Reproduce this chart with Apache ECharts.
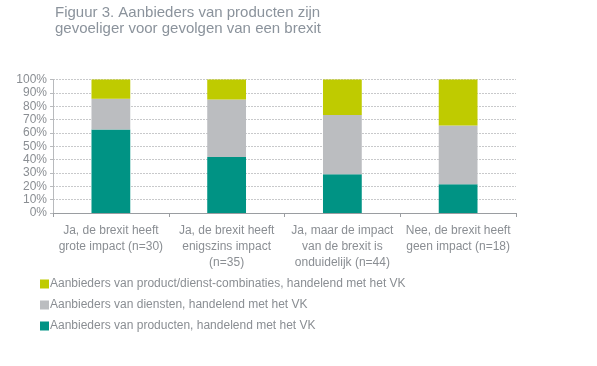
<!DOCTYPE html>
<html><head><meta charset="utf-8">
<script src="https://cdn.jsdelivr.net/npm/echarts@6/dist/echarts.min.js"></script>
<style>html,body{margin:0;padding:0;background:#fff}#c{width:597px;height:366px}</style>
</head><body><div id="c"></div>
<script>
const categories = [
  "Ja, de brexit heeft\ngrote impact (n=30)",
  "Ja, de brexit heeft\nenigszins impact\n(n=35)",
  "Ja, maar de impact\nvan de brexit is\nonduidelijk (n=44)",
  "Nee, de brexit heeft\ngeen impact (n=18)"
];
const seriesNames = [
  "Aanbieders van producten, handelend met het VK",
  "Aanbieders van diensten, handelend met het VK",
  "Aanbieders van product/dienst-combinaties, handelend met het VK"
];
const producten = [62.5, 42, 29, 21.5];
const diensten = [23, 43, 44.5, 44];
const combinaties = [14.5, 15, 26.5, 34.5];
const yTicks = [0,10,20,30,40,50,60,70,80,90,100];

const colors = ["#009384", "#bbbdc0", "#bfcb00"];
const textColor = "#8a8e93";
const chart = echarts.init(document.getElementById('c'));
const mk = (name, data, color) => ({
  name, type: 'bar', stack: 'a', data, barWidth: '33.5%',
  itemStyle: { color }
});
chart.setOption({
  animation: false,
  title: {
    text: "Figuur 3. Aanbieders van producten zijn\ngevoeliger voor gevolgen van een brexit",
    left: 50, top: 0,
    textStyle: { fontFamily: 'Liberation Sans', fontWeight: 'normal', fontSize: 15, color: '#8b939c', lineHeight: 16 }
  },
  grid: { left: 53, right: 81, top: 79.5, bottom: 153, containLabel: false },
  legend: {
    orient: 'vertical', left: 40, top: 278, padding: 0, itemWidth: 9, itemHeight: 9, itemGap: 9,
    icon: 'rect',
    data: [seriesNames[2], seriesNames[1], seriesNames[0]],
    textStyle: { fontFamily: 'Liberation Sans', fontSize: 12, color: textColor, padding: [0,0,0,-4] }
  },
  xAxis: {
    type: 'category', data: categories,
    axisLine: { lineStyle: { color: '#9a9da1' } },
    axisTick: { show: true, alignWithLabel: false, length: 4, lineStyle: { color: '#9a9da1' } },
    axisLabel: { fontFamily: 'Liberation Sans', fontSize: 12, color: textColor, lineHeight: 16, margin: 10, interval: 0 }
  },
  yAxis: {
    type: 'value', min: 0, max: 100, interval: 10,
    axisLine: { show: true, lineStyle: { color: '#b8babd' } },
    axisTick: { show: true, length: 3, lineStyle: { color: '#b8babd' } },
    splitLine: { lineStyle: { color: '#c8c9cb', type: [2, 1] } },
    axisLabel: { fontFamily: 'Liberation Sans', fontSize: 12, color: textColor, margin: 6,
      formatter: v => yTicks.includes(v) ? v + '%' : '' }
  },
  series: [
    mk(seriesNames[0], producten, colors[0]),
    mk(seriesNames[1], diensten, colors[1]),
    mk(seriesNames[2], combinaties, colors[2])
  ]
});
</script></body></html>
